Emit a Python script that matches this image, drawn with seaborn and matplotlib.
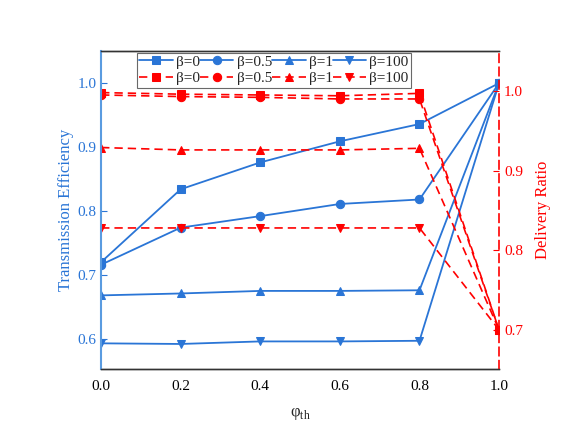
import matplotlib
matplotlib.use('Agg')
import matplotlib.pyplot as plt
import seaborn as sns

phi = [0.0, 0.2, 0.4, 0.6, 0.8, 1.0]
labels = ['β=0', 'β=0.5', 'β=1', 'β=100']
markers = ['s', 'o', '^', 'v']

# Transmission efficiency (left axis)
te_b0 = [0.720, 0.834, 0.876, 0.909, 0.936, 1.0]
te_b05 = [0.716, 0.774, 0.792, 0.811, 0.818, 1.0]
te_b1 = [0.668, 0.671, 0.675, 0.675, 0.676, 1.0]
te_b100 = [0.593, 0.592, 0.596, 0.596, 0.597, 1.0]

# Delivery ratio (right axis)
dr_b0 = [0.998, 0.996, 0.995, 0.994, 0.997, 0.70]
dr_b05 = [0.995, 0.993, 0.992, 0.990, 0.990, 0.70]
dr_b1 = [0.929, 0.926, 0.926, 0.926, 0.928, 0.70]
dr_b100 = [0.828, 0.828, 0.828, 0.828, 0.828, 0.70]

te = [te_b0, te_b05, te_b1, te_b100]
dr = [dr_b0, dr_b05, dr_b1, dr_b100]

sns.set_style('white')
plt.rcParams['font.family'] = ['Liberation Serif', 'DejaVu Serif']
plt.rcParams['mathtext.fontset'] = 'custom'
plt.rcParams['mathtext.rm'] = 'Liberation Serif'

blue = '#2a75d6'
red = '#ff0000'

fig = plt.figure(figsize=(5.81, 4.45), dpi=100)
ax = fig.add_axes([0.174, 0.171, 0.685, 0.714])
ax2 = ax.twinx()

hb = []
for vals, lab, m in zip(te, labels, markers):
    sns.lineplot(x=phi, y=vals, ax=ax, color=blue, marker=m, markersize=6,
                 markeredgecolor=blue, linewidth=1.3, label=lab, legend=False)
    hb.append(ax.lines[-1])

hr = []
for vals, lab, m in zip(dr, labels, markers):
    sns.lineplot(x=phi, y=vals, ax=ax2, color=red, marker=m, markersize=6,
                 markeredgecolor=red, linewidth=1.2, linestyle=(0, (5, 3)),
                 label=lab, legend=False)
    hr.append(ax2.lines[-1])

ax.set_xlim(0, 1.0)
ax.set_ylim(0.553, 1.05)
ax2.set_ylim(0.651, 1.05)
ax.set_xticks([0.0, 0.2, 0.4, 0.6, 0.8, 1.0])
ax.set_yticks([0.6, 0.7, 0.8, 0.9, 1.0])
ax2.set_yticks([0.7, 0.8, 0.9, 1.0])

ax.set_xlabel('φ$_{\\mathrm{th}}$', fontsize=12, labelpad=9)
ax.set_ylabel('Transmission Efficiency', color=blue, fontsize=12, labelpad=2)
ax2.set_ylabel('Delivery Ratio', color=red, fontsize=12, labelpad=9)

ax.tick_params(axis='x', direction='in', length=4, labelsize=11, pad=8, colors='black')
ax.tick_params(axis='y', direction='in', length=4, labelsize=11, colors=blue)
ax2.tick_params(axis='y', direction='in', length=4, labelsize=11, colors=red)

for a in (ax, ax2):
    for s in a.spines.values():
        s.set_visible(True)
        s.set_linewidth(1.0)
        s.set_color('#333333')
ax2.spines['left'].set_color('#5a9be0')
ax2.spines['left'].set_linewidth(1.5)
ax2.spines['right'].set_color(red)
ax2.spines['right'].set_linestyle((0, (5, 3)))
ax2.spines['right'].set_linewidth(1.2)
ax.spines['left'].set_visible(False)
ax.spines['right'].set_visible(False)

handles = []
names = []
for b, r, lab in zip(hb, hr, labels):
    handles += [b, r]
    names += [lab, lab]
leg = ax2.legend(handles, names, ncol=4, loc='upper left', bbox_to_anchor=(0.09, 0.995),
                 fontsize=11, frameon=True, fancybox=False, edgecolor='#444444',
                 handlelength=2.2, handletextpad=0.2, columnspacing=0.0,
                 borderpad=0.15, labelspacing=0.2, borderaxespad=0.0)
leg.get_frame().set_linewidth(0.8)

fig.savefig('out.png', dpi=100)
